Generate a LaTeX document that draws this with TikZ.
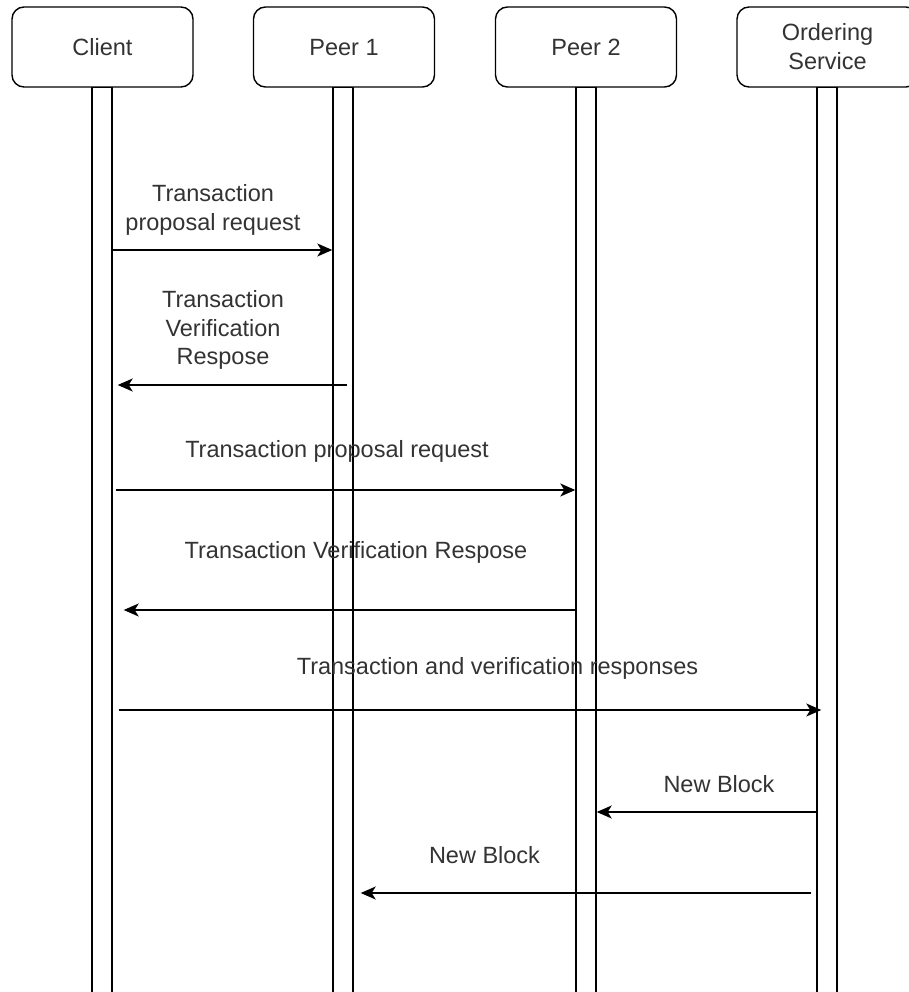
\documentclass[tikz,border=0pt]{standalone}
\usepackage{fontspec}
\setmainfont{Liberation Sans}
\usetikzlibrary{arrows.meta}
\begin{document}
\begin{tikzpicture}[x=1pt,y=-1pt,
  actor/.style={draw, line width=1.4pt, rounded corners=12pt, fill=white,
    minimum width=181pt, minimum height=80pt, align=center, inner sep=0pt,
    font=\fontsize{23.5}{29}\selectfont, text=black!80},
  actorone/.style={actor, text height=17pt, text depth=0pt},
  life/.style={draw, line width=1.4pt, minimum width=20pt, minimum height=913pt, inner sep=0pt},
  msg/.style={line width=1.4pt, -{Stealth[length=15pt,width=13pt,inset=4pt]}},
  lbl/.style={align=center, inner sep=0pt, font=\fontsize{23.5}{28.5}\selectfont, text=black!80}]
\useasboundingbox (0,0) rectangle (908,992);
% lifelines
\node[life] (cL)  at (102,543.5) {};
\node[life] (p1L) at (343,543.5) {};
\node[life] (p2L) at (586,543.5) {};
\node[life] (oL)  at (827,543.5) {};
% actors
\node[actorone] (c)  at (102.5,47) {Client};
\node[actorone] (p1) at (344,47) {Peer 1};
\node[actorone] (p2) at (586,47) {Peer 2};
\node[actor] (o)  at (827.5,47) {Ordering\\Service};
% messages
\draw[msg] (cL.east |- 0,250) -- (p1L.west |- 0,250);
\draw[msg] ([xshift=4pt]p1L.center |- 0,385) -- ([xshift=5pt]cL.east |- 0,385);
\draw[msg] ([xshift=3pt]cL.east |- 0,490) -- (p2L.west |- 0,490);
\draw[msg] (p2L.west |- 0,610) -- ([xshift=11pt]cL.east |- 0,610);
\draw[msg] ([xshift=6pt]cL.east |- 0,710) -- ([xshift=5pt]oL.west |- 0,710);
\draw[msg] ([xshift=2pt]oL.west |- 0,812) -- (p2L.east |- 0,812);
\draw[msg] ([xshift=-5pt]oL.west |- 0,893) -- ([xshift=7pt]p1L.east |- 0,893);
% labels
\node[lbl] (l1) at (213,210) {Transaction\\proposal request};
\node[lbl] (l2) at (223,330) {Transaction\\Verification\\Respose};
\node[lbl] (l3) at (337,451) {Transaction proposal request};
\node[lbl] (l4) at (356,552) {Transaction Verification Respose};
\node[lbl] (l5) at (497.5,668) {Transaction and verification responses};
\node[lbl] (l6) at (719,784) {New Block};
\node[lbl] (l7) at (484.5,855) {New Block};
\end{tikzpicture}
\end{document}
